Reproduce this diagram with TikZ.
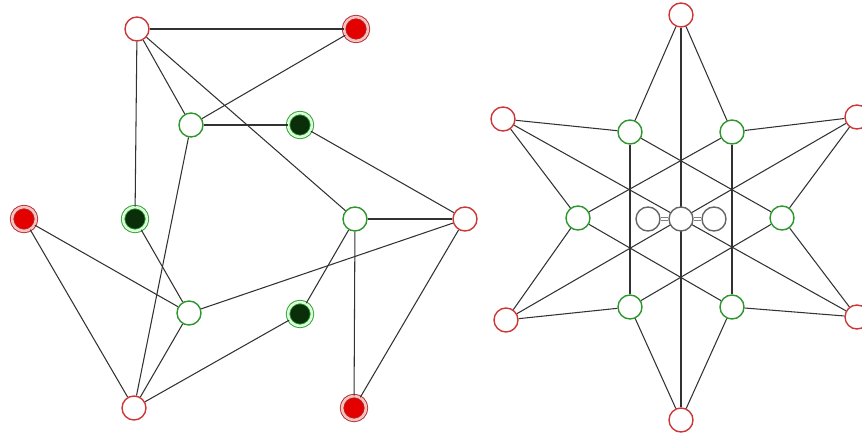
\documentclass[tikz,border=0pt]{standalone}
\definecolor{ringred}{RGB}{205,55,55}
\definecolor{ringgreen}{RGB}{45,150,45}
\definecolor{darkgreen}{RGB}{10,45,10}
\definecolor{edgegray}{RGB}{50,50,50}
\begin{document}
\begin{tikzpicture}[x=0.02cm,y=-0.02cm,
  vtx/.style={circle,inner sep=0pt,minimum size=0.48cm,fill=white,line width=0.8pt},
  redopen/.style={vtx,draw=ringred},
  greenopen/.style={vtx,draw=ringgreen},
  grayopen/.style={vtx,draw=gray!80!black},
  redfull/.style={vtx,draw=ringred!80!black,fill=red!90!black,double=red!25,double distance=1.5pt,line width=0.5pt},
  greenfull/.style={vtx,draw=ringgreen,fill=darkgreen,double=green!15,double distance=1.5pt,line width=0.5pt},
  edge/.style={draw=edgegray,line width=0.6pt}]
  \useasboundingbox (0,0) rectangle (862,435);
  % left graph
  \node[redopen] (A) at (137,29) {};
  \node[redfull] (B) at (356,29) {};
  \node[greenopen] (C) at (191,125) {};
  \node[greenfull] (D) at (300,125) {};
  \node[redfull] (E) at (24,219) {};
  \node[greenfull] (F) at (135,219) {};
  \node[greenopen] (G) at (355,219) {};
  \node[redopen] (H) at (465,219) {};
  \node[greenopen] (I) at (189,313) {};
  \node[greenfull] (J) at (300,314) {};
  \node[redopen] (K) at (134,408) {};
  \node[redfull] (L) at (354,408) {};
  \foreach \u/\v in {A/B,A/F,A/C,A/G,C/B,C/D,C/K,D/H,G/H,E/I,E/K,F/I,I/H,I/K,K/J,G/J,G/L,H/L}
    \path[edge] (\u) -- (\v);
  % right graph
  \node[redopen] (T) at (681,15) {};
  \node[redopen] (UL) at (503,119) {};
  \node[redopen] (UR) at (857,117) {};
  \node[redopen] (LL) at (506,320) {};
  \node[redopen] (LR) at (857,317) {};
  \node[redopen] (Bt) at (681,420) {};
  \node[greenopen] (G1) at (630,132) {};
  \node[greenopen] (G2) at (732,132) {};
  \node[greenopen] (G3) at (578,218) {};
  \node[greenopen] (G4) at (782,218) {};
  \node[greenopen] (G5) at (630,307) {};
  \node[greenopen] (G6) at (732,307) {};
  \foreach \u/\v in {T/G1,T/G2,T/Bt,UL/G1,UL/G3,UL/LR,UR/G2,UR/G4,UR/LL,LL/G3,LL/G5,LR/G4,LR/G6,Bt/G5,Bt/G6,G1/G5,G2/G6,G1/G4,G2/G3,G3/G6,G4/G5}
    \path[edge] (\u) -- (\v);
  \node[grayopen] (c1) at (648,219) {};
  \node[grayopen] (c2) at (681,219) {};
  \node[grayopen] (c3) at (714,219) {};
  \draw[gray,double=white,double distance=1.2pt,line width=0.5pt] (c1) -- (c2);
  \draw[gray,double=white,double distance=1.2pt,line width=0.5pt] (c2) -- (c3);
\end{tikzpicture}
\end{document}
